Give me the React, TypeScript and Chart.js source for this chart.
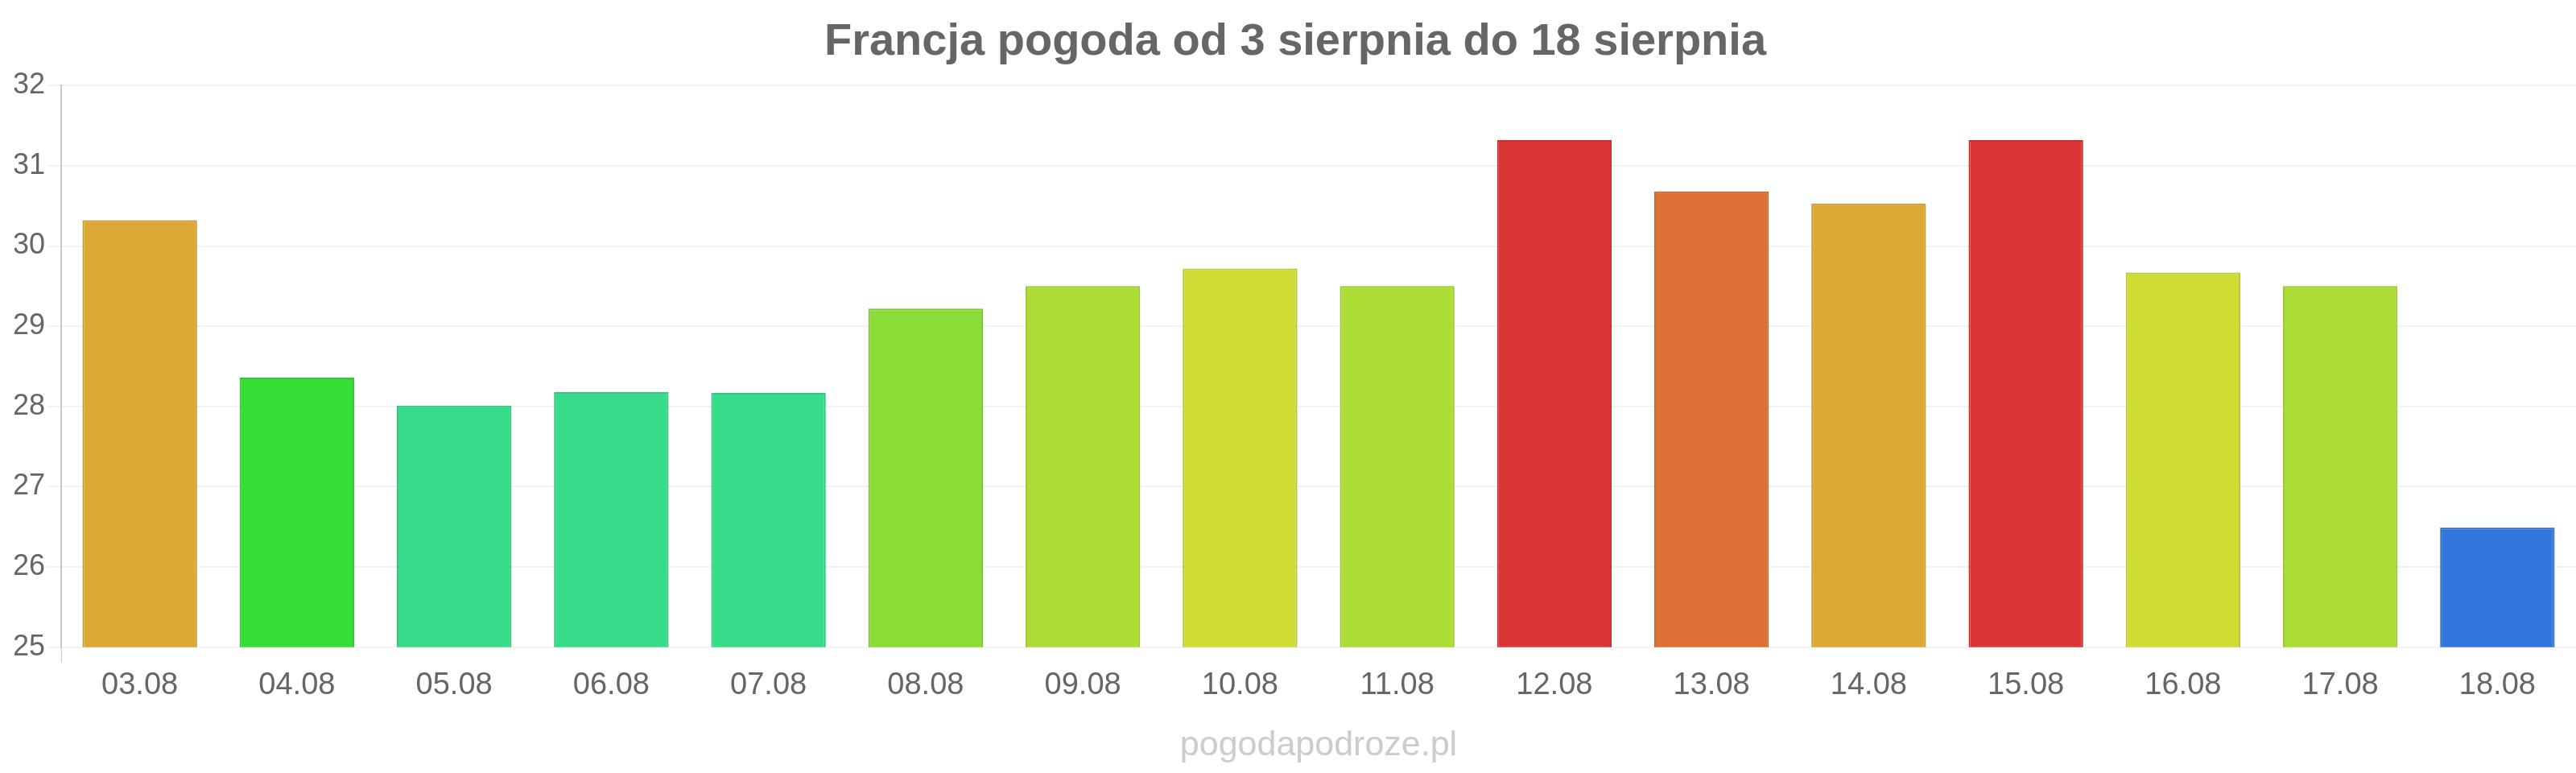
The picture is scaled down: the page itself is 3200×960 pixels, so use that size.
import { useEffect, useRef } from 'react';
import { Chart, ChartConfiguration, registerables } from 'chart.js';

Chart.register(...registerables);

// data
const days = [
  '03.08', '04.08', '05.08', '06.08', '07.08', '08.08', '09.08', '10.08',
  '11.08', '12.08', '13.08', '14.08', '15.08', '16.08', '17.08', '18.08'
];
const temps = [
  30.32, 28.36, 28.01, 28.18, 28.17, 29.22, 29.5, 29.72,
  29.5, 31.32, 30.68, 30.53, 31.32, 29.67, 29.5, 26.49
];
const yTicks = [25, 26, 27, 28, 29, 30, 31, 32];

const titleText = 'Francja pogoda od 3 sierpnia do 18 sierpnia';
const footerText = 'pogodapodroze.pl';

// colour per bar (by temperature band)
const fillColors = [
  '#DCA934', '#36DD36', '#36DC8A', '#36DC8A', '#36DC8A', '#8ADD36', '#ACDD34', '#CEDC34',
  '#ACDD34', '#DC3535', '#DC7035', '#DCA934', '#DC3535', '#CEDC34', '#ACDD34', '#3477DC'
];
const borderColors = [
  '#C6982F', '#31C731', '#31C67C', '#31C67C', '#31C67C', '#7CC731', '#9BC72F', '#B9C62F',
  '#9BC72F', '#C63030', '#C66530', '#C6982F', '#C63030', '#B9C62F', '#9BC72F', '#2F6BC6'
];

const FONT = '"Liberation Sans", Arial, sans-serif';

export default function App() {
  const canvasRef = useRef<HTMLCanvasElement | null>(null);
  const chartRef = useRef<Chart<'bar'> | null>(null);

  useEffect(() => {
    document.body.style.margin = '0';
    if (!canvasRef.current) return;
    if (chartRef.current) {
      chartRef.current.destroy();
    }

    const config: ChartConfiguration<'bar'> = {
      type: 'bar',
      data: {
        labels: days,
        datasets: [
          {
            data: temps,
            backgroundColor: fillColors,
            borderColor: borderColors,
            borderWidth: 2,
            barPercentage: 0.9,
            categoryPercentage: 0.81
          }
        ]
      },
      options: {
        responsive: true,
        maintainAspectRatio: false,
        animation: false,
        layout: { padding: { left: 18, right: 0, top: 0, bottom: 0 } },
        plugins: {
          legend: { display: false },
          tooltip: { enabled: false },
          title: {
            display: true,
            text: titleText,
            color: '#666666',
            font: { family: FONT, size: 56, weight: 'bold' },
            padding: { top: 19, bottom: 20 }
          }
        },
        scales: {
          x: {
            grid: {
              drawOnChartArea: false,
              tickLength: 19,
              color: (ctx) => (ctx.index === 0 ? '#c8c8c8' : 'rgba(0,0,0,0)')
            },
            border: { display: false },
            ticks: {
              color: '#666666',
              font: { family: FONT, size: 38 },
              padding: 6
            },
            // site name sits under the axis, centred on the plot area
            title: {
              display: true,
              text: footerText,
              color: '#cccccc',
              font: { family: FONT, size: 43 },
              padding: { top: 20, bottom: 8 }
            }
          },
          y: {
            min: yTicks[0],
            max: yTicks[yTicks.length - 1],
            afterBuildTicks: (axis) => {
              axis.ticks = yTicks.map((v) => ({ value: v }));
            },
            afterFit: (axis) => {
              axis.width = 58; // labels + padding + tick marks
            },
            grid: {
              color: '#f3f3f3',
              lineWidth: 2,
              tickLength: 18
            },
            border: { display: true, color: '#c8c8c8', width: 2 },
            ticks: {
              color: '#666666',
              font: { family: FONT, size: 36 },
              padding: 2
            }
          }
        }
      }
    };

    chartRef.current = new Chart(canvasRef.current, config);

    return () => {
      if (chartRef.current) {
        chartRef.current.destroy();
        chartRef.current = null;
      }
    };
  }, []);

  return (
    <div style={{ width: 3200, height: 960, position: 'relative' }}>
      <canvas ref={canvasRef} />
    </div>
  );
}
